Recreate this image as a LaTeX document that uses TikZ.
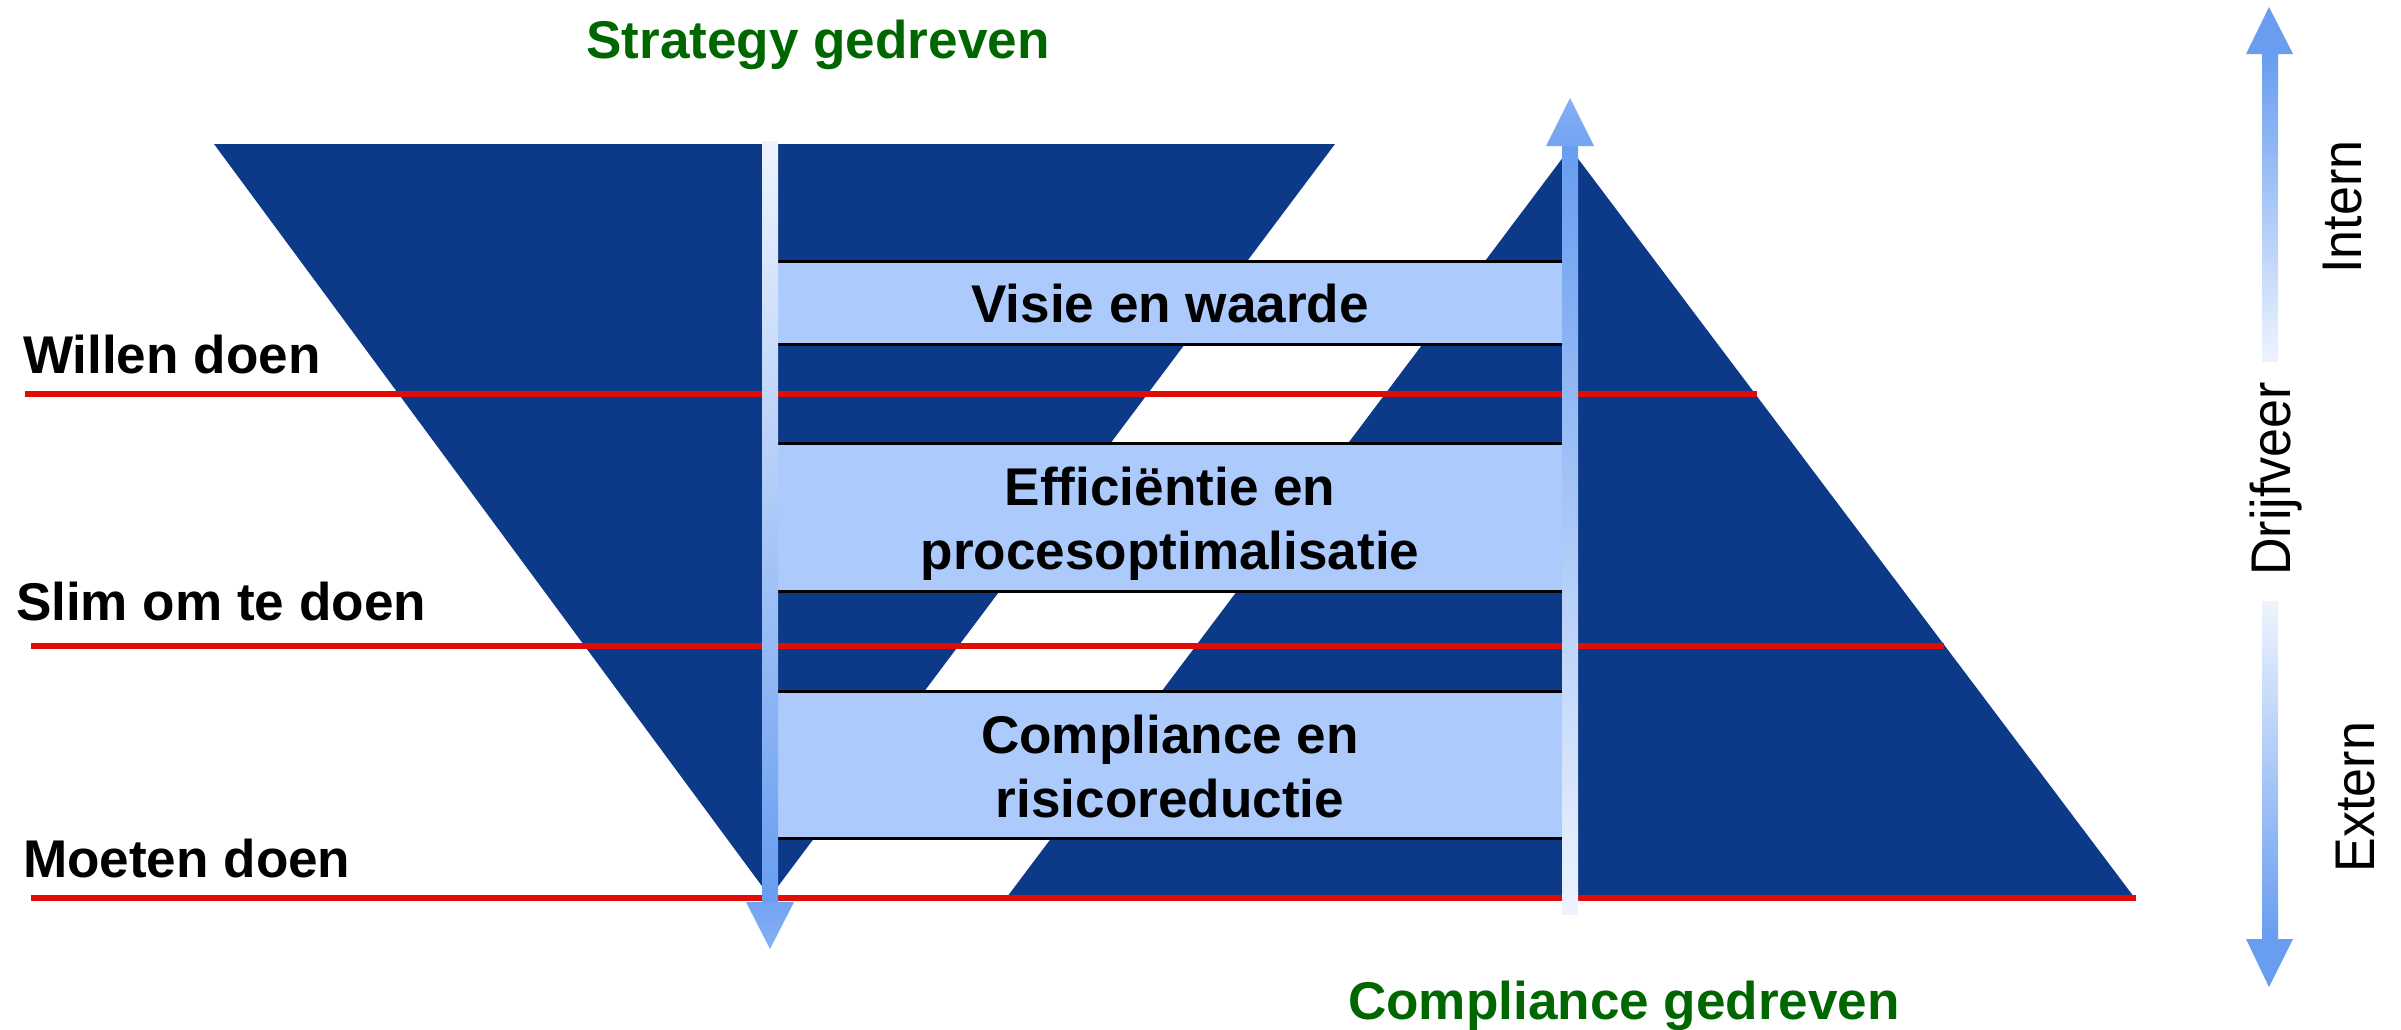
\documentclass[tikz,border=0pt]{standalone}
\usepackage{fontspec}
\setmainfont{Liberation Sans}
\newfontfamily\narrowfont[FakeStretch=0.93]{Liberation Sans}
\newcommand\bigfont{\fontsize{15.1}{18.2}\selectfont}
\newcommand\sidefont{\narrowfont\fontsize{15.9}{19}\selectfont}
\definecolor{darkblue}{RGB}{13,58,136}
\definecolor{bandblue}{RGB}{172,203,252}
\definecolor{arrowblue}{RGB}{104,157,240}
\definecolor{arrowpale}{RGB}{238,244,254}
\definecolor{headlight}{RGB}{135,175,244}
\definecolor{headdark}{RGB}{116,163,242}
\definecolor{lineRed}{RGB}{225,12,8}
\definecolor{textgreen}{RGB}{0,102,0}
\begin{document}
\begin{tikzpicture}[x=0.01cm,y=-0.01cm,
  every node/.style={inner sep=0pt, outer sep=0pt},
  boldlabel/.style={font=\bigfont\bfseries, anchor=base west},
  greenlabel/.style={font=\bigfont\bfseries, text=textgreen, anchor=base},
  bandtext/.style={font=\bigfont\bfseries, align=center, anchor=center},
  sidelabel/.style={font=\sidefont, rotate=90, anchor=base},
  redline/.style={draw=lineRed, line width=0.06cm},
  bandline/.style={draw=black, line width=0.03cm},
]
\useasboundingbox (0,0) rectangle (2401,1029);

% two triangles
\fill[darkblue] (214,144) -- (1335,144) -- (770,897) -- cycle;
\fill[darkblue] (1570,148) -- (2134,897) -- (1007,897) -- cycle;

% bands
\foreach \t/\b in {261/344, 443/591, 691/838} {
  \fill[bandblue] (778,\t) rectangle (1562,\b);
  \draw[bandline] (778,\t) -- (1562,\t) (778,\b) -- (1562,\b);
}

% red lines
\coordinate (w1) at (25,394);   \coordinate (w2) at (1757,394);
\coordinate (s1) at (31,646);   \coordinate (s2) at (1944,646);
\coordinate (m1) at (31,898);   \coordinate (m2) at (2136,898);
\draw[redline] (w1) -- (w2);
\draw[redline] (s1) -- (s2);
\draw[redline] (m1) -- (m2);

% left labels
\node[boldlabel] (willen) at (23,373) {Willen doen};
\node[boldlabel] (slim) at (16,620) {Slim om te doen};
\node[boldlabel] (moeten) at (23,877) {Moeten doen};

% band texts
\node[bandtext] (visie) at (1170,304) {Visie en waarde};
\node[bandtext] (effic) at (1170,524) {Efficiëntie en\\procesoptimalisatie};
\node[bandtext] (compl) at (1170,766) {Compliance en\\risicoreductie};

% green labels
\node[greenlabel] (strat) at (818,58) {Strategy gedreven};
\node[greenlabel] (compg) at (1624,1019) {Compliance gedreven};

% left down arrow
\shade[top color=arrowpale, bottom color=arrowblue] (762,141) rectangle (778,902);
\shade[top color=headdark, bottom color=headlight] (746,902) -- (794,902) -- (770,949) -- cycle;

% right up arrow
\shade[top color=arrowblue, bottom color=arrowpale] (1562,146) rectangle (1578,914);
\shade[top color=headlight, bottom color=headdark] (1546,146) -- (1594,146) -- (1570,98) -- cycle;

% side double arrow
\fill[arrowblue] (2246,54) -- (2293,54) -- (2269,7) -- cycle;
\shade[top color=arrowblue, bottom color=arrowpale] (2262,54) rectangle (2278,361);
\shade[top color=arrowpale, bottom color=arrowblue] (2262,601) rectangle (2278,939);
\fill[arrowblue] (2246,939) -- (2293,939) -- (2269,987) -- cycle;

% side labels
\node[sidelabel] (drijf) at (2290,479) {Drijfveer};
\node[sidelabel] (intern) at (2361,207) {Intern};
\node[sidelabel] (extern) at (2374,797) {Extern};
\end{tikzpicture}
\end{document}
